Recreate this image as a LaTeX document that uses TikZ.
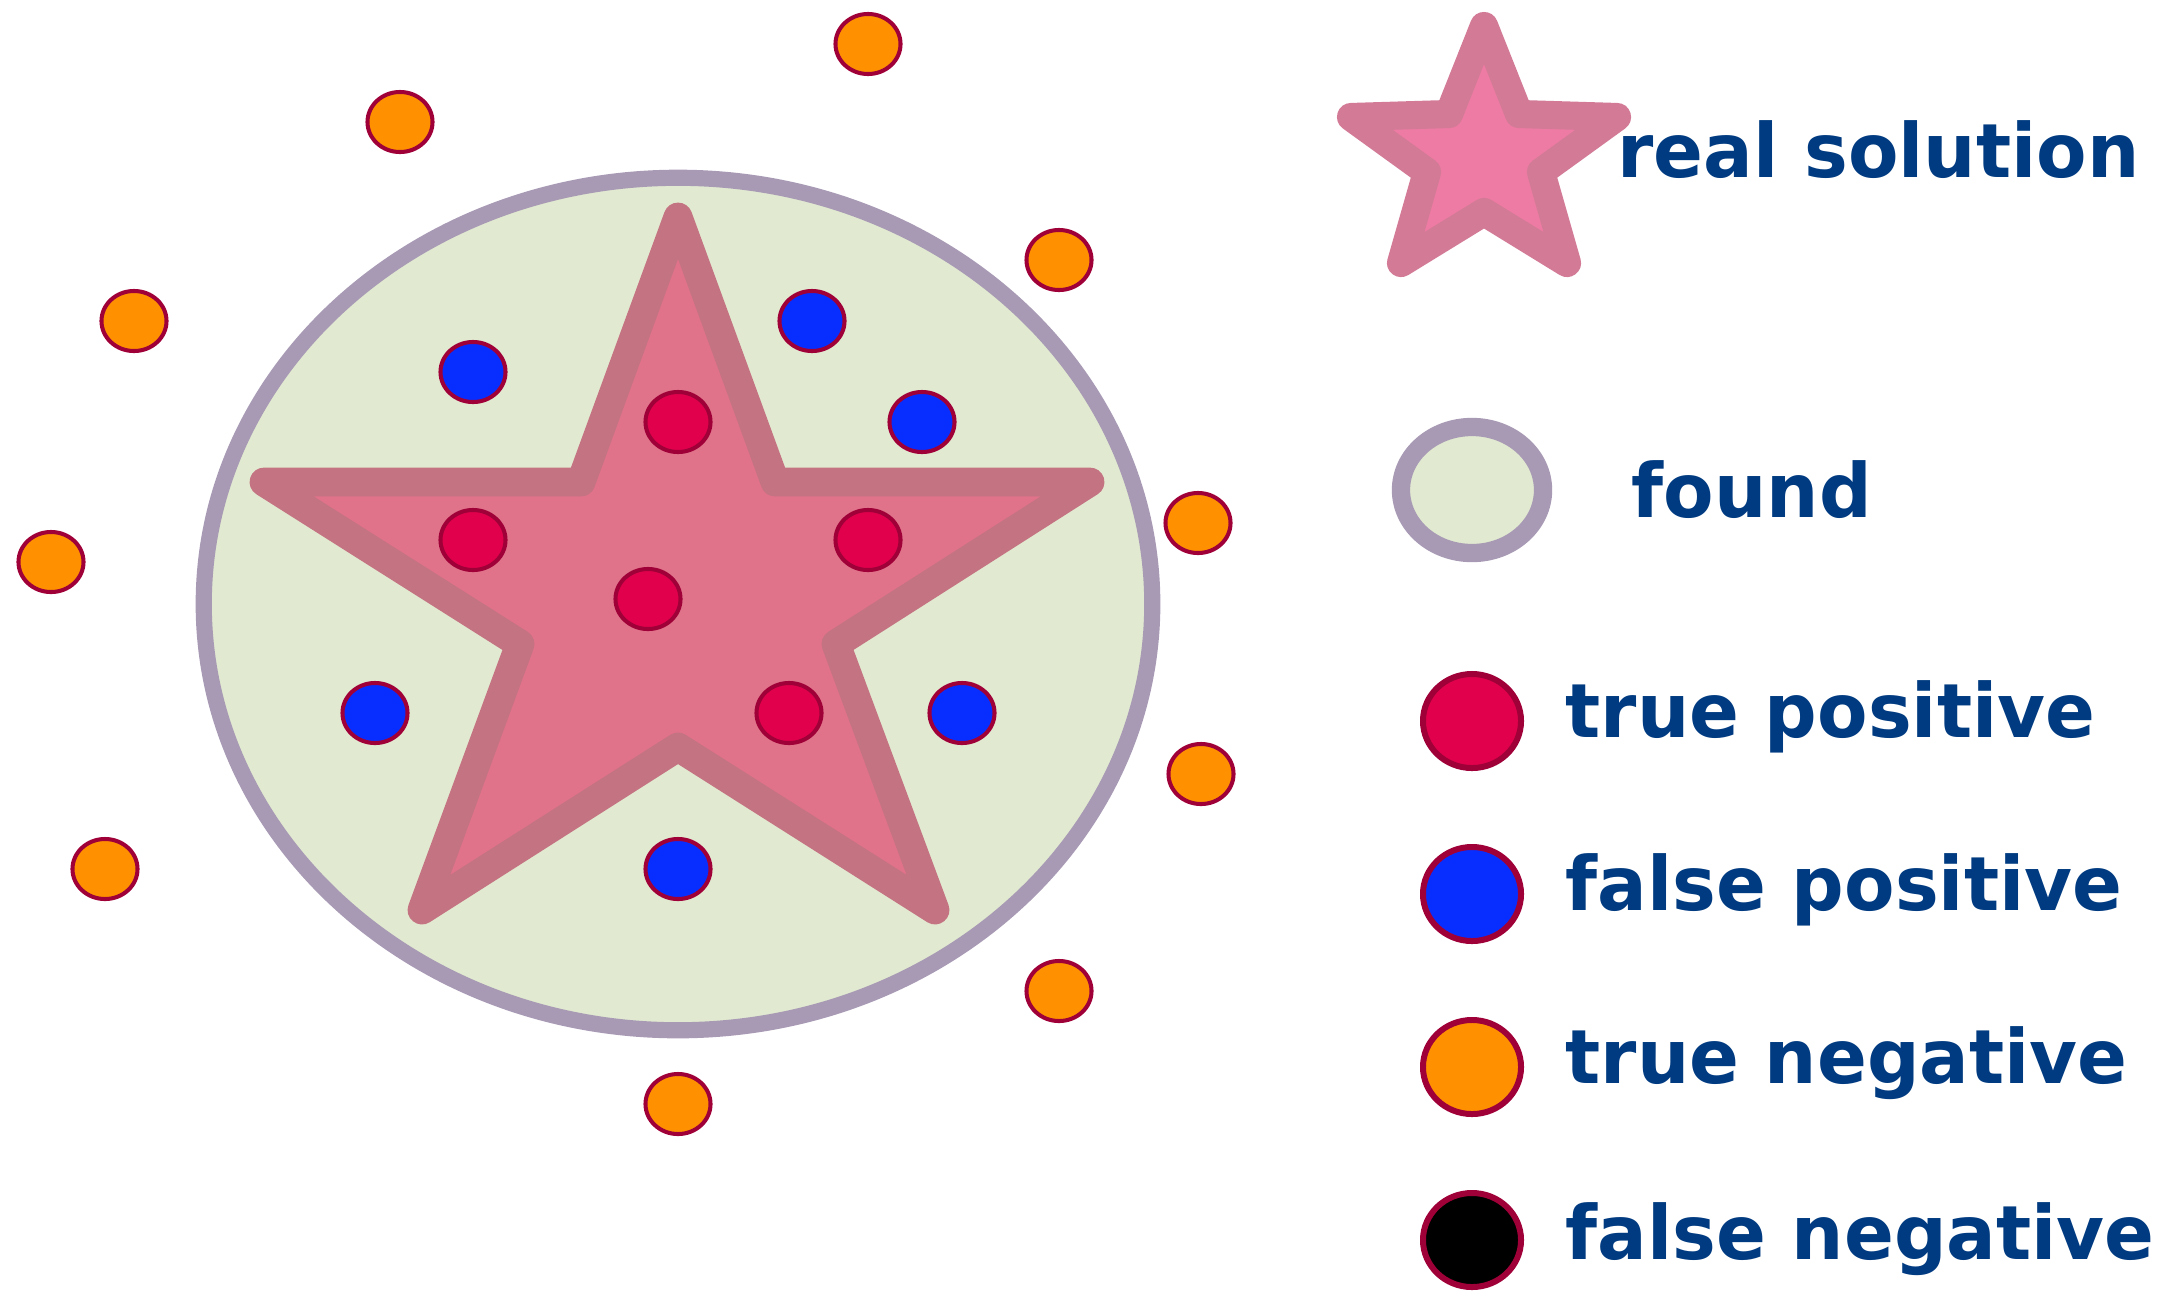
\documentclass[tikz,border=0pt]{standalone}
\usepackage{fontspec}
\setmainfont{DejaVu Sans}[FakeStretch=0.982]
\definecolor{starfill}{RGB}{224,114,138}
\definecolor{starline}{RGB}{196,115,131}
\definecolor{lstarfill}{RGB}{238,123,163}
\definecolor{lstarline}{RGB}{210,122,150}
\definecolor{foundfill}{RGB}{225,234,208}
\definecolor{foundline}{RGB}{168,154,181}
\definecolor{tpcol}{RGB}{224,0,76}
\definecolor{fpcol}{RGB}{8,46,255}
\definecolor{tncol}{RGB}{255,145,0}
\definecolor{fncol}{RGB}{0,0,0}
\definecolor{dotline}{RGB}{160,0,56}
\definecolor{txtcol}{RGB}{0,58,128}
\tikzset{
  dot/.style={draw=dotline, line width=1.15pt},
  ldot/.style={draw=dotline, line width=1.7pt},
  legtext/.style={anchor=base west, inner sep=0pt, text=txtcol, font=\fontsize{21.3pt}{25pt}\selectfont\bfseries},
}
\begin{document}
\begin{tikzpicture}[x=0.01cm,y=-0.01cm]
\useasboundingbox (0,0) rectangle (2170,1290);
% found ellipse
\draw[fill=foundfill, draw=foundline, line width=4.6pt] (678,604) ellipse [x radius=4.74cm, y radius=4.26cm];
% star
\draw[fill=starfill, draw=starline, line width=8.2pt, line join=round]
  (678,217) -- (775,482) -- (1090,482) -- (836,644) -- (935,910) -- (678,747)
  -- (422,910) -- (520,644) -- (264,482) -- (581,482) -- cycle;
% true positives
\foreach \p in {(678,422),(473,540),(868,540),(648,599),(789,713)}
  \draw[dot, fill=tpcol] \p ellipse [x radius=0.325cm, y radius=0.30cm];
% false positives
\foreach \p in {(473,372),(812,321),(922,422),(375,713),(962,713),(678,869)}
  \draw[dot, fill=fpcol] \p ellipse [x radius=0.325cm, y radius=0.30cm];
% true negatives
\foreach \p in {(868,44),(400,122),(1059,260),(134,321),(1198,523),(51,562),(1201,774),(105,869),(1059,991),(678,1104)}
  \draw[dot, fill=tncol] \p ellipse [x radius=0.325cm, y radius=0.30cm];
% legend star
\draw[fill=lstarfill, draw=lstarline, line width=8pt, line join=round]
  (1484,26) -- (1519,114) -- (1617,117) -- (1541,172) -- (1567,263) -- (1484,212)
  -- (1401,263) -- (1427,172) -- (1351,117) -- (1449,114) -- cycle;
\node[legtext] (lreal) at (1617,177) {real solution};
% legend found
\begin{scope}
\clip (1380,400) rectangle (1553,600);
\draw[fill=foundfill, draw=foundline, line width=5.2pt] (1472,490) ellipse [x radius=0.71cm, y radius=0.63cm];
\end{scope}
\node[legtext] (lfound) at (1631,517) {found};
% legend dots
\draw[ldot, fill=tpcol] (1472,721) ellipse [x radius=0.49cm, y radius=0.47cm];
\node[legtext] (ltp) at (1565,737) {true positive};
\draw[ldot, fill=fpcol] (1472,894) ellipse [x radius=0.49cm, y radius=0.47cm];
\node[legtext] (lfp) at (1565,910) {false positive};
\draw[ldot, fill=tncol] (1472,1067) ellipse [x radius=0.49cm, y radius=0.47cm];
\node[legtext] (ltn) at (1565,1083) {true negative};
\draw[ldot, fill=fncol] (1472,1240) ellipse [x radius=0.49cm, y radius=0.47cm];
\node[legtext] (lfn) at (1565,1259) {false negative};
\end{tikzpicture}
\end{document}
